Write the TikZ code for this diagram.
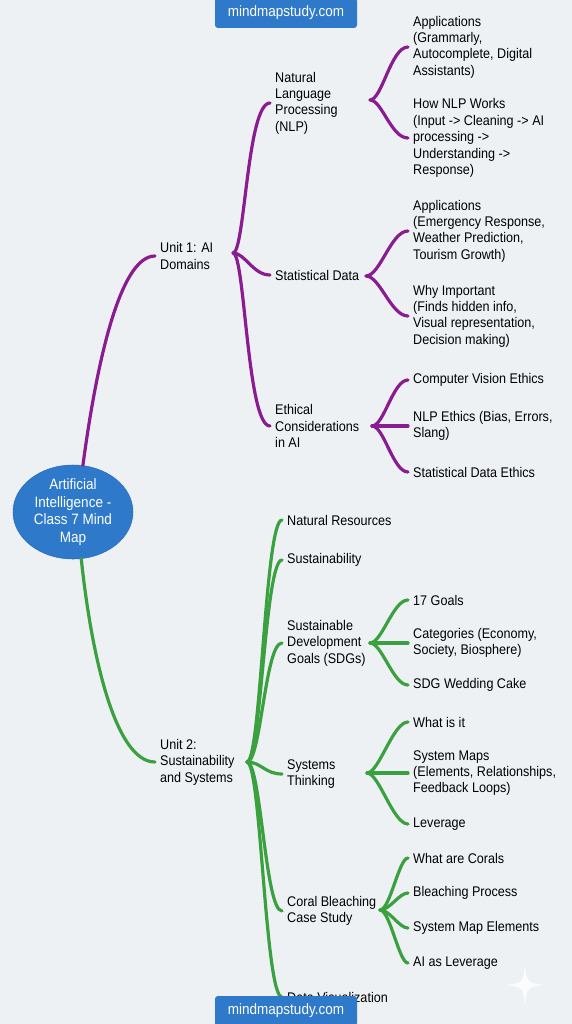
\documentclass[tikz,border=0pt]{standalone}
\usepackage{fontspec}
\setmainfont{Liberation Sans}[FakeStretch=0.9]
\usepackage{xcolor}
\usetikzlibrary{shapes.geometric}
\definecolor{bgpaper}{RGB}{238,241,244}
\definecolor{aiblue}{RGB}{46,121,202}
\definecolor{aipurple}{RGB}{136,28,144}
\definecolor{aigreen}{RGB}{58,160,64}

\begin{document}
\begin{tikzpicture}[
  x=1pt, y=-1pt,
  every node/.style={font=\fontsize{14}{16.4}\selectfont},
  topic/.style={anchor=west, align=left, inner sep=0pt},
  root/.style={ellipse, fill=aiblue, draw=aiblue!90!black, line width=0.5pt, minimum width=120pt, minimum height=91pt, inner sep=0pt, align=center, text=white, font=\fontsize{15}{17.5}\selectfont},
  banner/.style={fill=aiblue, rounded corners=3pt, minimum width=142pt, minimum height=30pt, text=white, font=\fontsize{15}{18}\selectfont},
  purplearm/.style={draw=aipurple, line width=3.2pt, line cap=round, shorten >=5pt},
  greenarm/.style={draw=aigreen, line width=3.2pt, line cap=round, shorten >=5pt}
]
  \useasboundingbox (0,0) rectangle (572,1024);
  \fill[bgpaper] (0,0) rectangle (572,1024);

  % root
  \node[root] (ai) at (73,512) {Artificial\\Intelligence -\\Class 7 Mind\\Map};

  % unit 1
  \node[topic] (unitone) at (160,256) {Unit 1: AI\\Domains};
  \coordinate (onehub) at (233,253);
  \node[topic] (nlp) at (275,103) {Natural\\Language\\Processing\\(NLP)};
  \coordinate (nlphub) at (370,100);
  \node[topic] (nlpapps) at (413,47) {Applications\\(Grammarly,\\Autocomplete, Digital\\Assistants)};
  \node[topic] (nlphow) at (413,138) {How NLP Works\\(Input -> Cleaning -> AI\\processing ->\\Understanding ->\\Response)};
  \node[topic] (stat) at (275,275) {Statistical Data};
  \coordinate (stathub) at (366,276);
  \node[topic] (statapps) at (413,231) {Applications\\(Emergency Response,\\Weather Prediction,\\Tourism Growth)};
  \node[topic] (statwhy) at (413,316) {Why Important\\(Finds hidden info,\\Visual representation,\\Decision making)};
  \node[topic] (ethics) at (275,426) {Ethical\\Considerations\\in AI};
  \coordinate (ethhub) at (372,426);
  \node[topic] (ethcv) at (413,380) {Computer Vision Ethics};
  \node[topic] (ethnlp) at (413,426) {NLP Ethics (Bias, Errors,\\Slang)};
  \node[topic] (ethstat) at (413,472) {Statistical Data Ethics};

  % unit 2
  \node[topic] (unittwo) at (160,762) {Unit 2:\\Sustainability\\and Systems};
  \coordinate (twohub) at (247,762);
  \node[topic] (natres) at (287,520) {Natural Resources};
  \node[topic] (sustain) at (287,560) {Sustainability};
  \node[topic] (sdg) at (287,643) {Sustainable\\Development\\Goals (SDGs)};
  \coordinate (sdghub) at (370,643);
  \node[topic] (sdggoals) at (413,600) {17 Goals};
  \node[topic] (sdgcats) at (413,643) {Categories (Economy,\\Society, Biosphere)};
  \node[topic] (sdgcake) at (413,685) {SDG Wedding Cake};
  \node[topic] (systems) at (287,774) {Systems\\Thinking};
  \coordinate (syshub) at (367,773);
  \node[topic] (syswhat) at (413,722) {What is it};
  \node[topic] (sysmaps) at (413,773) {System Maps\\(Elements, Relationships,\\Feedback Loops)};
  \node[topic] (syslever) at (413,824) {Leverage};
  \node[topic] (coral) at (287,911) {Coral Bleaching\\Case Study};
  \coordinate (coralhub) at (380,910);
  \node[topic] (coralwhat) at (413,858) {What are Corals};
  \node[topic] (coralproc) at (413,893) {Bleaching Process};
  \node[topic] (coralelem) at (413,928) {System Map Elements};
  \node[topic] (coralai) at (413,963) {AI as Leverage};
  \node[topic] (dataviz) at (287,997) {Data Visualization};

  % purple branches
  \draw[purplearm] (ai.78) .. controls +(12,-90) and +(-42,0) .. (unitone.west);
  \draw[purplearm] (onehub) .. controls +(12,0) and +(-28,0) .. (nlp.west);
  \draw[purplearm] (onehub) .. controls +(12,0) and +(-22,0) .. (stat.west);
  \draw[purplearm] (onehub) .. controls +(12,0) and +(-28,0) .. (ethics.west);
  \foreach \leaf in {nlpapps, nlphow}
    \draw[purplearm] (nlphub) .. controls +(12,0) and +(-22,0) .. (\leaf.west);
  \foreach \leaf in {statapps, statwhy}
    \draw[purplearm] (stathub) .. controls +(14,0) and +(-22,0) .. (\leaf.west);
  \foreach \leaf in {ethcv, ethnlp, ethstat}
    \draw[purplearm] (ethhub) .. controls +(12,0) and +(-20,0) .. (\leaf.west);

  % green branches
  \draw[greenarm] (ai.-80) .. controls +(10,95) and +(-45,0) .. (unittwo.west);
  \foreach \leaf in {natres, sustain, sdg, systems, coral, dataviz}
    \draw[greenarm] (twohub) .. controls +(14,0) and +(-22,0) .. (\leaf.west);
  \foreach \leaf in {sdggoals, sdgcats, sdgcake}
    \draw[greenarm] (sdghub) .. controls +(12,0) and +(-20,0) .. (\leaf.west);
  \foreach \leaf in {syswhat, sysmaps, syslever}
    \draw[greenarm] (syshub) .. controls +(12,0) and +(-20,0) .. (\leaf.west);
  \foreach \leaf in {coralwhat, coralproc, coralelem, coralai}
    \draw[greenarm] (coralhub) .. controls +(10,0) and +(-14,0) .. (\leaf.west);

  % banners
  \node[banner] (sitetop) at (286,13) {mindmapstudy.com};
  \node[banner] (sitebottom) at (286,1011) {mindmapstudy.com};

  % sparkle
  \fill[white, opacity=0.85] (525,965) .. controls (527,983) .. (545,985) .. controls (527,987) .. (525,1005) .. controls (523,987) .. (505,985) .. controls (523,983) .. cycle;
\end{tikzpicture}
\end{document}
